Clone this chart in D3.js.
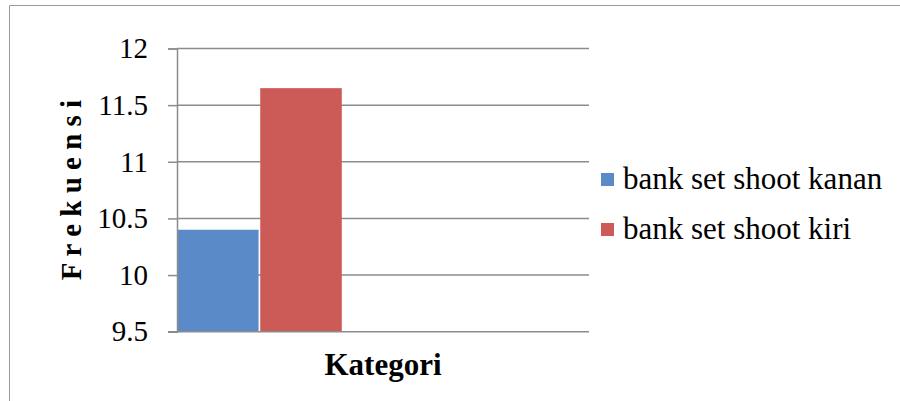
<!DOCTYPE html>
<html>
<head>
<meta charset="utf-8">
<script src="https://cdn.jsdelivr.net/npm/d3@7"></script>
<style>
  body { margin: 0; background: #fff; }
  svg { display: block; font-family: "Liberation Serif", "Times New Roman", serif; }
</style>
</head>
<body>
<svg id="chart" width="900" height="401"></svg>
<script>
const seriesNames = ['bank set shoot kanan', 'bank set shoot kiri'];
const seriesValues = [10.4, 11.65];
const seriesColors = ['#5a8ac8', '#cc5b58'];
const yTicks = [9.5, 10, 10.5, 11, 11.5, 12];

const width = 900;
const height = 401;
const plot = { left: 177, right: 589, top: 48.5, bottom: 331.7 };

const svg = d3.select('#chart');

// outer frame (only top and left edges visible)
svg.append('line')
    .attr('x1', 9.5).attr('x2', width).attr('y1', 5.5).attr('y2', 5.5)
    .attr('stroke', '#9a9a9a').attr('stroke-width', 1);
svg.append('line')
    .attr('x1', 9.5).attr('x2', 9.5).attr('y1', 5.5).attr('y2', height)
    .attr('stroke', '#9a9a9a').attr('stroke-width', 1);

const y = d3.scaleLinear()
    .domain([9.5, 12])
    .range([plot.bottom, plot.top]);

// series occupy 2 of 5 slots in the single category (gap width 0)
const slotWidth = (plot.right - plot.left) / 5;
const x = d3.scaleBand()
    .domain(seriesNames)
    .range([plot.left, plot.left + slotWidth * seriesNames.length])
    .paddingInner(0.02);

// gridlines
svg.append('g')
    .selectAll('line')
    .data(yTicks.slice(1))
    .enter()
    .append('line')
    .attr('x1', plot.left).attr('x2', plot.right)
    .attr('y1', d => y(d)).attr('y2', d => y(d))
    .attr('stroke', '#8c8c8c')
    .attr('stroke-width', 1.5);

// bars
svg.append('g')
    .selectAll('rect')
    .data(seriesNames)
    .enter()
    .append('rect')
    .attr('x', d => x(d))
    .attr('width', x.bandwidth())
    .attr('y', (d, i) => y(seriesValues[i]))
    .attr('height', (d, i) => y(9.5) - y(seriesValues[i]))
    .attr('fill', (d, i) => seriesColors[i]);

// y axis
const yAxis = svg.append('g')
    .attr('transform', `translate(${plot.left},0)`)
    .call(d3.axisLeft(y).tickValues(yTicks).tickSize(9).tickPadding(20).tickFormat(d3.format('')));
yAxis.selectAll('line').attr('stroke', '#8c8c8c').attr('stroke-width', 1.5);
yAxis.select('.domain').attr('stroke', '#8c8c8c').attr('stroke-width', 1.5);
yAxis.selectAll('text')
    .attr('font-family', '"Liberation Serif", serif')
    .attr('font-size', 29)
    .attr('fill', '#000');

// bottom axis line
svg.append('line')
    .attr('x1', plot.left - 9).attr('x2', plot.right)
    .attr('y1', plot.bottom).attr('y2', plot.bottom)
    .attr('stroke', '#8c8c8c').attr('stroke-width', 1.5);

// axis titles
svg.append('text')
    .attr('transform', `translate(81,${(plot.top + plot.bottom) / 2}) rotate(-90)`)
    .attr('text-anchor', 'middle')
    .attr('font-weight', 'bold')
    .attr('font-size', 29)
    .text('F r e k u e n s i');

svg.append('text')
    .attr('x', (plot.left + plot.right) / 2)
    .attr('y', 375)
    .attr('text-anchor', 'middle')
    .attr('font-weight', 'bold')
    .attr('font-size', 31)
    .text('Kategori');

// legend
const legend = svg.append('g')
    .selectAll('g')
    .data(seriesNames)
    .enter()
    .append('g')
    .attr('transform', (d, i) => `translate(601,${173 + i * 50})`);
legend.append('rect')
    .attr('width', 13).attr('height', 13)
    .attr('fill', (d, i) => seriesColors[i]);
legend.append('text')
    .attr('x', 22)
    .attr('y', 16)
    .attr('font-size', 31)
    .text(d => d);
</script>
</body>
</html>
